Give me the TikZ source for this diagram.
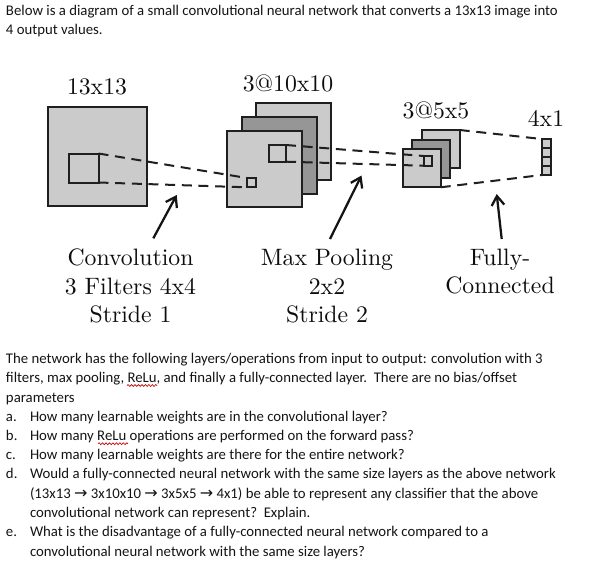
\documentclass[tikz,border=0pt]{standalone}
\usepackage{fontspec}
\setmainfont{Carlito}
\newfontfamily\cm{Latin Modern Roman}
\newfontfamily\arrowfont{DejaVu Sans}
\usetikzlibrary{decorations.pathmorphing,arrows.meta}
\newcommand{\arr}{{\arrowfont\fontsize{12pt}{12pt}\selectfont →}}
\tikzset{
  body/.style={anchor=base west,inner sep=0pt,outer sep=0pt,font=\fontsize{11.08pt}{13pt}\selectfont,text=black!92},
  lab/.style={anchor=base,inner sep=0pt,outer sep=0pt,scale=1.78,font=\cm\fontsize{10pt}{12pt}\selectfont,text=black!95},
  light/.style={draw=black!88,fill=boxlight,line width=1.5pt,line join=miter},
  dark/.style={draw=black!88,fill=boxdark,line width=1.5pt},
  wire/.style={draw=black!88,line width=1.5pt},
  dashwire/.style={draw=black!88,line width=1.5pt,dash pattern=on 7.5pt off 5pt},
  pointer/.style={draw=black!92,line width=1.7pt,-{Straight Barb[length=7pt,width=9.5pt,line width=1.7pt]}},
  squiggle/.style={draw=red!75!black,line width=.5pt,decorate,decoration={snake,amplitude=.7pt,segment length=2.6pt}}
}
\definecolor{boxlight}{HTML}{CBCBCB}
\definecolor{boxdark}{HTML}{969696}
\begin{document}
\begin{tikzpicture}[x=.75pt,y=-.75pt]
\useasboundingbox (0,0) rectangle (616,574);
% input
\draw[light] (47.5,107) rectangle (146.5,205.5);
\draw[wire] (68.5,153.5) rectangle (98.5,182.5);
\coordinate (i1) at (98.5,153.5);
\coordinate (i2) at (98.5,182.5);
% 10x10 stack
\draw[light] (255.5,103.5) rectangle (331,179.5);
\draw[dark] (241.5,117.5) rectangle (316.5,193.5);
\draw[light] (226.8,131) rectangle (302.3,206.7);
\draw[wire] (247,178) rectangle (256,187.3);
\coordinate (s1) at (247,178);
\coordinate (s2) at (247,187.3);
\draw[wire] (268.8,145) rectangle (286,161.7);
\coordinate (m1) at (286,145);
\coordinate (m2) at (286,161.7);
% 5x5 stack
\draw[light] (422,130) rectangle (459.7,168.3);
\draw[dark] (412.3,140) rectangle (450,177.7);
\draw[light] (402.7,149.3) rectangle (440.7,187.3);
\draw[wire] (423.5,156) rectangle (431.7,165.7);
\coordinate (t1) at (423.5,156);
\coordinate (t2) at (423.5,165.7);
\coordinate (b1) at (459.7,130);
\coordinate (b2) at (440.7,187.3);
% vector
\draw[light] (541.7,139) rectangle (550.7,148);
\draw[light] (541.7,148) rectangle (550.7,157);
\draw[light] (541.7,157) rectangle (550.7,166);
\draw[light] (541.7,166) rectangle (550.7,175);
\coordinate (v1) at (541.7,139);
\coordinate (v2) at (541.7,175);
% dashed projections
\draw[dashwire] (i1) -- (s1);
\draw[dashwire] (i2) -- (s2);
\draw[dashwire] (m1) -- (t1);
\draw[dashwire] (m2) -- (t2);
\draw[dashwire] (b1) -- (v1);
\draw[dashwire] (b2) -- (v2);
% pointers
\coordinate (p1a) at (153.3,238.3); \coordinate (p1b) at (176.7,195);
\coordinate (p2a) at (330,239); \coordinate (p2b) at (361.5,175.5);
\coordinate (p3a) at (501.7,239); \coordinate (p3b) at (496.7,194);
\draw[pointer] (p1a) -- (p1b);
\draw[pointer] (p2a) -- (p2b);
\draw[pointer] (p3a) -- (p3b);
% diagram labels
\node[lab] (l1) at (97,95) {13x13};
\node[lab] (l2) at (288,92) {3@10x10};
\node[lab] (l3) at (436,118) {3@5x5};
\node[lab] (l4) at (546,127) {4x1};
\node[lab] (c1) at (130.5,265) {Convolution};
\node[lab] (c2) at (130.5,294) {3 Filters 4x4};
\node[lab] (c3) at (130.5,322) {Stride 1};
\node[lab] (m1t) at (327,265) {Max Pooling};
\node[lab] (m2t) at (327,294) {2x2};
\node[lab] (m3t) at (327,322) {Stride 2};
\node[lab] (f1) at (500,265) {Fully-};
\node[lab] (f2) at (500,293.5) {Connected};
% text
\node[body] (t01) at (6,16) {Below is a diagram of a small convolutional neural network that converts a 13x13 image into};
\node[body] (t02) at (6,35) {4 output values.};
\node[body] (t03) at (6,363) {The network has the following layers/operations from input to output: convolution with 3};
\node[body] (t04) at (6,382.7) {filters, max pooling, ReLu, and finally a fully-connected layer.\ \ There are no bias/offset};
\node[body] (t05) at (6,402) {parameters};
\node[body] (a0) at (6,421) {a.};
\node[body] (a1) at (30,421) {How many learnable weights are in the convolutional layer?};
\node[body] (b0) at (6,440) {b.};
\node[body] (b1) at (30,440) {How many ReLu operations are performed on the forward pass?};
\node[body] (c0) at (6,459) {c.};
\node[body] (c1b) at (30,459) {How many learnable weights are there for the entire network?};
\node[body] (d0) at (6,478.3) {d.};
\node[body] (d1) at (30,478.3) {Would a fully-connected neural network with the same size layers as the above network};
\node[body] (d2) at (30,498) {(13x13 \arr\ 3x10x10 \arr\ 3x5x5 \arr\ 4x1) be able to represent any classifier that the above};
\node[body] (d3) at (30,517.5) {convolutional network can represent?\ \ Explain.};
\node[body] (e0) at (6,536.3) {e.};
\node[body] (e1) at (30,536.3) {What is the disadvantage of a fully-connected neural network compared to a};
\node[body] (e2) at (30,556) {convolutional neural network with the same size layers?};
% spell-check underlines
\coordinate (u1a) at (127,385.5); \coordinate (u1b) at (157,385.5);
\coordinate (u2a) at (98,443.7); \coordinate (u2b) at (128,443.7);
\draw[squiggle] (u1a) -- (u1b);
\draw[squiggle] (u2a) -- (u2b);
\end{tikzpicture}
\end{document}
